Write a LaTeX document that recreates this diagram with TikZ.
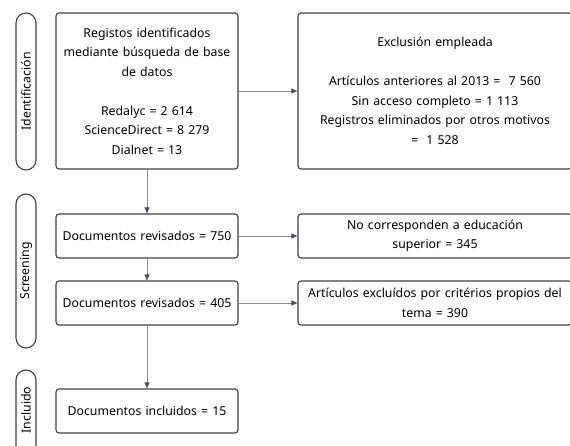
\documentclass[tikz,border=0pt]{standalone}
\usepackage{fontspec}
\setmainfont{Noto Sans}
\usetikzlibrary{arrows.meta}
\definecolor{boxline}{HTML}{3F3F46}
\definecolor{conn}{HTML}{8C8C94}
\definecolor{tipc}{HTML}{4A4F5E}
\begin{document}
\begin{tikzpicture}[x=1pt,y=-1pt,
  box/.style={draw=boxline,line width=1.1pt,rounded corners=3pt,align=center,
    inner sep=2pt,font=\fontsize{12.3}{19.5}\selectfont},
  pill/.style={draw=boxline,line width=1.1pt,rounded corners=10pt,minimum width=20pt},
  pilltext/.style={rotate=90,font=\fontsize{12.3}{14}\selectfont},
  conn/.style={draw=conn,line width=0.8pt,-{Triangle[length=6pt,width=5pt,color=tipc]}},
  plain/.style={draw=conn,line width=0.8pt}]
\useasboundingbox (0,0) rectangle (570,446);
\clip (0,0) rectangle (570,446);
% side pills
\node[pill,minimum height=157pt] (p1) at (26,91.5) {};
\node[pilltext] (p1t) at (p1.center) {Identificación};
\node[pill,minimum height=154pt] (p2) at (26,271) {};
\node[pilltext] (p2t) at (p2.center) {Screening};
\node[pill,minimum height=100pt] (p3) at (26,420) {};
\node[pilltext] (p3t) at (26,410) {Incluido};
% left boxes
\node[box,minimum width=182pt,minimum height=156pt,text width=178pt] (tl) at (147,91)
 {Registos identificados\\mediante búsqueda de base\\de datos\\[19.5pt]Redalyc = 2 614\\ScienceDirect = 8 279\\Dialnet = 13};
\node[box,minimum width=182pt,minimum height=44pt,text width=178pt] (b1) at (147,236)
 {Documentos revisados = 750};
\node[box,minimum width=182pt,minimum height=44pt,text width=178pt] (b2) at (147,303)
 {Documentos revisados = 405};
\node[box,minimum width=182pt,minimum height=44pt,text width=178pt] (b3) at (147,411)
 {Documentos incluidos = 15};
% right boxes
\node[box,minimum width=274pt,minimum height=156pt,text width=268pt] (tr) at (435,91)
 {Exclusión empleada\\[19.5pt]Artículos anteriores al 2013 =\ \ 7 560\\Sin acceso completo = 1 113\\Registros eliminados por otros motivos\\=\ \ 1 528};
\node[box,minimum width=274pt,minimum height=44pt,text width=268pt] (r1) at (435,236)
 {No corresponden a educación\\superior = 345};
\node[box,minimum width=274pt,minimum height=44pt,text width=268pt] (r2) at (435,303)
 {Artículos excluídos por critérios propios del\\tema = 390};
% connectors
\draw[conn] (tl.east) -- (tr.west);
\draw[conn] (tl.south) -- (b1.north);
\draw[conn] (b1.east) -- (r1.west);
\draw[conn] (b1.south) -- (b2.north);
\draw[conn] (b2.east) -- (r2.west);
\draw[conn] (b2.south) -- (b3.north);
\end{tikzpicture}
\end{document}
